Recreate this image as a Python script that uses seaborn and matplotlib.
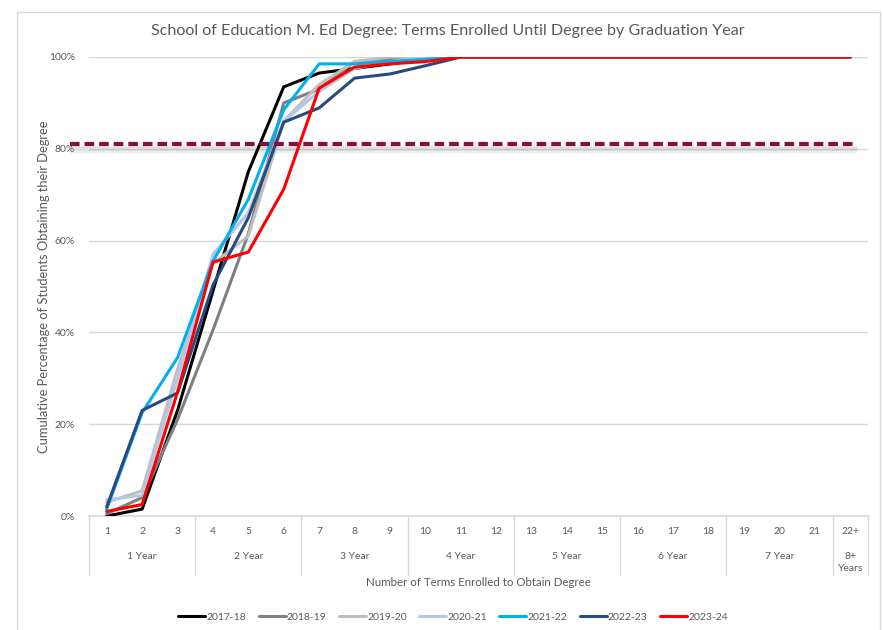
import numpy as np
import pandas as pd
import seaborn as sns
import matplotlib.pyplot as plt
from matplotlib.patches import Rectangle
from matplotlib.lines import Line2D

terms = [str(i) for i in range(1, 22)] + ["22+"]
groups = ["1 Year", "2 Year", "3 Year", "4 Year", "5 Year", "6 Year", "7 Year", "8+\nYears"]
group_sizes = [3, 3, 3, 3, 3, 3, 3, 1]
years = ["2017-18", "2018-19", "2019-20", "2020-21", "2021-22", "2022-23", "2023-24"]
colors = ["#000000", "#808080", "#bfbfbf", "#b4c7e7", "#00b0f0", "#294a80", "#ff0000"]

full = [100] * 11
y2017 = [0, 1.5, 23, 49, 75, 93.5, 96.5, 97.5, 98.5, 99.5] + full + [100]
y2018 = [0.5, 4, 21, 40.5, 61.5, 90, 93, 99, 99.5, 100] + full + [100]
y2019 = [3, 5.5, 32, 55, 61, 86, 94, 99, 100, 100] + full + [100]
y2020 = [3.5, 4.5, 30, 57, 66, 86, 92.5, 97.5, 99, 100] + full + [100]
y2021 = [1.5, 22.5, 34.5, 55.5, 69, 88.5, 98.5, 98.5, 99, 99.5] + full + [100]
y2022 = [2, 23, 26.8, 50.3, 65, 85.8, 88.9, 95.4, 96.3, 98.1] + full + [100]
y2023 = [1, 2.5, 27, 55.3, 57.5, 71.2, 93.2, 97.8, 98.5, 99] + full + [100]
target = 81

series = [y2017, y2018, y2019, y2020, y2021, y2022, y2023]
rows = []
for yr, vals in zip(years, series):
    for i, v in enumerate(vals):
        rows.append({"pos": i + 1, "pct": v / 100, "year": yr})
df = pd.DataFrame(rows)

sns.set_theme(style="white")
plt.rcParams["font.family"] = ["Lato", "DejaVu Sans"]
txt = "#595959"
grid = "#d9d9d9"

fig = plt.figure(figsize=(8.83, 6.3), dpi=100)
fig.patches.append(Rectangle((17 / 883, -0.1), 863 / 883, 1.1 - 12 / 630, transform=fig.transFigure,
                             fill=False, edgecolor=grid, linewidth=1))
ax = fig.add_axes([89 / 883, 1 - 516 / 630, 779 / 883, 459 / 630])

sns.lineplot(data=df, x="pos", y="pct", hue="year", palette=dict(zip(years, colors)),
             linewidth=2.2, ax=ax, legend=False, zorder=3)

ax.set_xlim(0.5, 22.5)
ax.set_ylim(0, 1)
ax.set_yticks([0, 0.2, 0.4, 0.6, 0.8, 1.0])
ax.set_yticklabels(["0%", "20%", "40%", "60%", "80%", "100%"], color=txt, fontsize=7.5)
ax.tick_params(axis="y", length=0, pad=10)
ax.set_xticks([])
ax.set_xlabel("")
ax.set_ylabel("Cumulative Percentage of Students Obtaining their Degree", color=txt, fontsize=9.3)
ax.yaxis.set_label_coords(-0.05, 0.5)
for s in ["top", "right", "left"]:
    ax.spines[s].set_visible(False)
ax.spines["bottom"].set_color(grid)
for v in [0.2, 0.4, 0.6, 0.8, 1.0]:
    ax.axhline(v, color=grid, linewidth=1, zorder=1)

# target line with a soft shadow underneath
tx = [-0.05, 22.2]
ty = [target / 100] * 2
for w, a in [(7, 0.06), (5, 0.08), (3, 0.1)]:
    ax.plot(tx, [target / 100 - 0.011] * 2, color="gray", linewidth=w, alpha=a,
            solid_capstyle="butt", clip_on=False, zorder=2)
ax.plot(tx, ty, color="#8b0d3f", linewidth=3, dashes=(2.3, 1.2), clip_on=False, zorder=4)

# multi-level category axis
trans = ax.get_xaxis_transform()
for i, t in enumerate(terms):
    ax.text(i + 1, -0.033, t, transform=trans, ha="center", va="center", color=txt, fontsize=7.5)
edge = 0.5
ax.plot([edge, edge], [0, -0.128], transform=trans, color=grid, linewidth=1, clip_on=False)
for g, n in zip(groups, group_sizes):
    mid = edge + n / 2
    ax.text(mid, -0.078, g, transform=trans, ha="center", va="top", color=txt, fontsize=7.5,
            linespacing=1.5)
    edge += n
    ax.plot([edge, edge], [0, -0.128], transform=trans, color=grid, linewidth=1, clip_on=False)

fig.text(478 / 883, 1 - 583 / 630, "Number of Terms Enrolled to Obtain Degree", ha="center", va="center",
         color=txt, fontsize=8.3)
fig.text(448 / 883, 1 - 31 / 630, "School of Education M. Ed Degree: Terms Enrolled Until Degree by Graduation Year",
         ha="center", va="center", color=txt, fontsize=11.6)

handles = [Line2D([0], [0], color=c, linewidth=2.2) for c in colors]
fig.legend(handles, years, loc="center", bbox_to_anchor=(453 / 883, 1 - 617 / 630), ncol=7,
           frameon=False, fontsize=7.5, handlelength=2.6, handletextpad=0.1, columnspacing=1.2,
           labelcolor=txt)

fig.savefig("out.png", dpi=100)
